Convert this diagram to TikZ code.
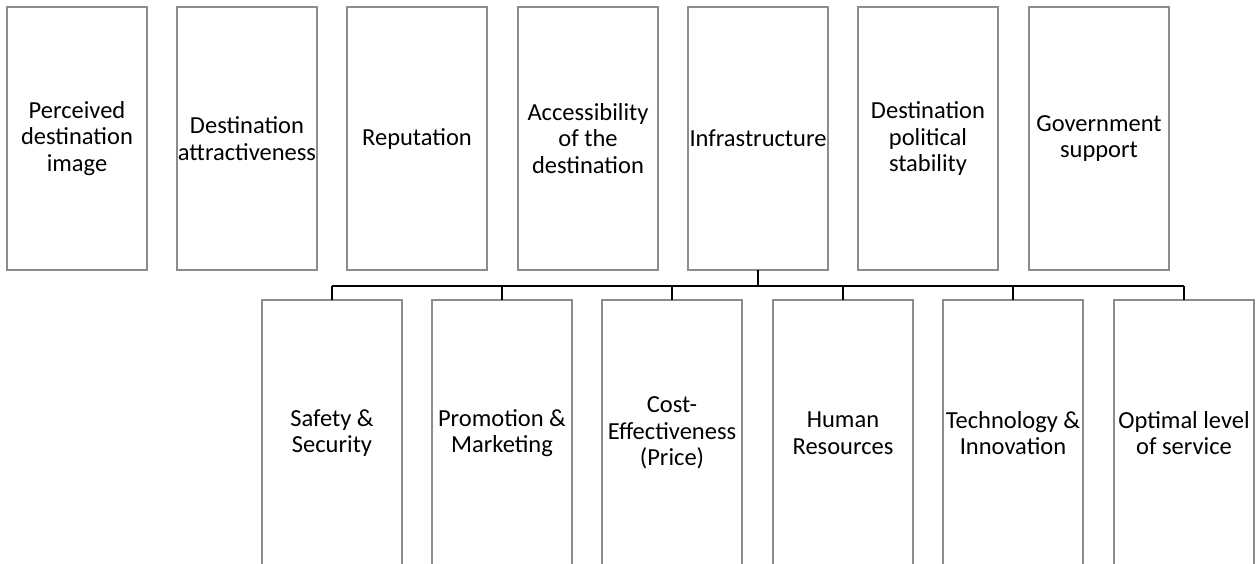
\documentclass[tikz,border=0pt]{standalone}
\usepackage{fontspec}
\setmainfont{Carlito}
\definecolor{boxgray}{HTML}{8C8C8C}
\begin{document}
\begin{tikzpicture}[x=1pt,y=-1pt,
  card/.style={draw=boxgray, line width=1.4pt, minimum width=140pt,
    inner sep=0pt, outer sep=0pt, align=center, anchor=north west,
    font=\fontsize{24.5}{26.5}\selectfont},
  topcard/.style={card, minimum height=263pt},
  lowcard/.style={card, minimum height=266pt},
  link/.style={line width=2.6pt, black}]
\useasboundingbox (0,0) rectangle (1258,563);
\clip (0,0) rectangle (1258,563);

% upper row of factors
\node[topcard] (t1) at (7,7)    {Perceived\\destination\\image};
\node[topcard] (t2) at (177,7)  {Destination\\attractiveness};
\node[topcard] (t3) at (347,7)  {Reputation};
\node[topcard] (t4) at (518,7)  {Accessibility\\of the\\destination};
\node[topcard] (t5) at (688,7)  {Infrastructure};
\node[topcard] (t6) at (858,7)  {Destination\\political\\stability};
\node[topcard] (t7) at (1029,7) {Government\\support};

% lower row of factors
\node[lowcard] (b1) at (262,300)  {Safety \&\\Security};
\node[lowcard] (b2) at (432,300)  {Promotion \&\\Marketing};
\node[lowcard] (b3) at (602,300)  {Cost-\\Effectiveness\\(Price)};
\node[lowcard] (b4) at (773,300)  {Human\\Resources};
\node[lowcard] (b5) at (943,300)  {Technology \&\\Innovation};
\node[lowcard] (b6) at (1114,300) {Optimal level\\of service};

% connectors from Infrastructure to the lower row
\draw[link] (t5.south) -- ++(0,16) coordinate (bus);
\draw[link] (b1.north |- bus) -- (b6.north |- bus);
\foreach \b in {b1,b2,b3,b4,b5,b6}
  \draw[link] (\b.north) -- (\b.north |- bus);
\end{tikzpicture}
\end{document}
